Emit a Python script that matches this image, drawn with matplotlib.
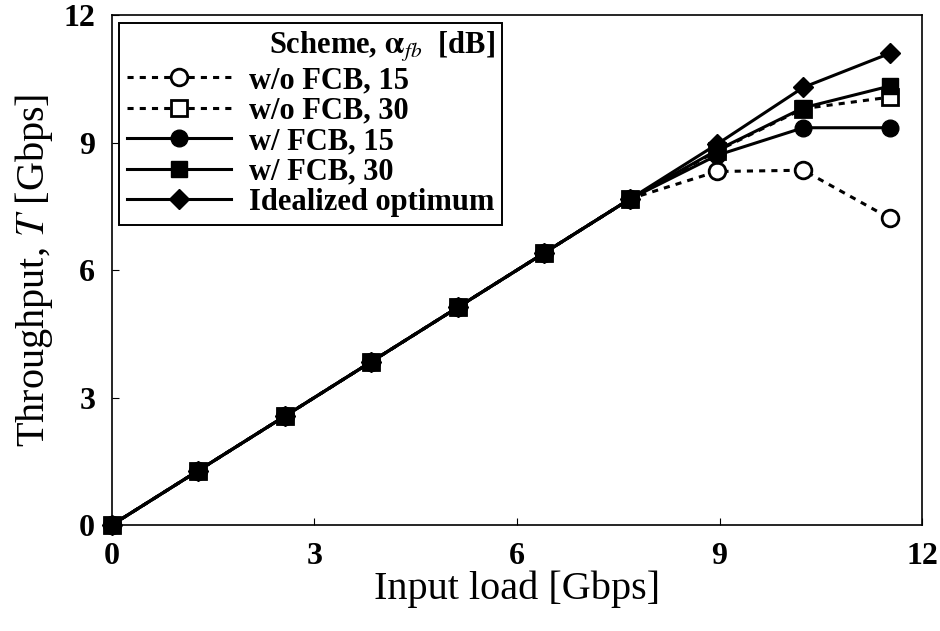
import matplotlib
matplotlib.use('Agg')
import matplotlib.pyplot as plt

plt.rcParams['font.family'] = ['Liberation Serif', 'DejaVu Serif']
plt.rcParams['mathtext.fontset'] = 'stix'

# Данные
load = [0, 1.28, 2.56, 3.84, 5.12, 6.4, 7.68, 8.96, 10.24, 11.52]
wo_fcb_15 = [0, 1.28, 2.56, 3.84, 5.12, 6.4, 7.68, 8.32, 8.35, 7.22]
wo_fcb_30 = [0, 1.28, 2.56, 3.84, 5.12, 6.4, 7.68, 8.8, 9.8, 10.07]
w_fcb_15 = [0, 1.28, 2.56, 3.84, 5.12, 6.4, 7.68, 8.7, 9.35, 9.35]
w_fcb_30 = [0, 1.28, 2.56, 3.84, 5.12, 6.4, 7.68, 8.82, 9.82, 10.33]
ideal = [0, 1.28, 2.56, 3.84, 5.12, 6.4, 7.68, 8.96, 10.3, 11.1]

fig = plt.figure(figsize=(9.4, 6.31), dpi=100)
ax = fig.add_axes([0.119, 0.168, 0.862, 0.808])

ax.plot(load, wo_fcb_15, ls=(0, (2, 2)), color='black', lw=2.2,
        marker='o', ms=12, mfc='white', mec='black', mew=2, label='w/o FCB, 15', zorder=3)
ax.plot(load, wo_fcb_30, ls=(0, (2, 2)), color='black', lw=2.2,
        marker='s', ms=11, mfc='white', mec='black', mew=2, label='w/o FCB, 30', zorder=3)
ax.plot(load, w_fcb_15, ls='-', color='black', lw=2.2,
        marker='o', ms=12, mfc='black', mec='black', label='w/ FCB, 15', zorder=4)
ax.plot(load, w_fcb_30, ls='-', color='black', lw=2.2,
        marker='s', ms=11, mfc='black', mec='black', label='w/ FCB, 30', zorder=6)
ax.plot(load, ideal, ls='-', color='black', lw=2.2,
        marker='D', ms=10, mfc='black', mec='black', label='Idealized optimum', zorder=5)

ax.set_xlim(0, 12)
ax.set_ylim(0, 12)
ax.set_xticks([0, 3, 6, 9, 12])
ax.set_yticks([0, 3, 6, 9, 12])
ax.tick_params(direction='in', length=5, labelsize=23, pad=12)
for lab in ax.get_xticklabels() + ax.get_yticklabels():
    lab.set_fontweight('bold')
for s in ax.spines.values():
    s.set_linewidth(1.2)
for ln in ax.lines:
    ln.set_clip_on(False)

ax.set_xlabel('Input load [Gbps]', fontsize=29, labelpad=0)
ax.set_ylabel(r'Throughput, $T$ [Gbps]', fontsize=29, labelpad=6)

leg = ax.legend(loc='upper left', title=r'Scheme, $\mathbf{\alpha}_{fb}$  [dB]',
                prop={'size': 22, 'weight': 'bold'}, frameon=True, fancybox=False,
                edgecolor='black', framealpha=1, borderpad=0.25,
                labelspacing=0.05, handlelength=3.4, handletextpad=0.6,
                borderaxespad=0.25)
leg.get_title().set_fontsize(22)
leg.get_title().set_fontweight('bold')
leg._legend_box.align = 'right'
leg.get_frame().set_linewidth(1.4)
leg.set_zorder(10)

fig.savefig('out.png', dpi=100)
